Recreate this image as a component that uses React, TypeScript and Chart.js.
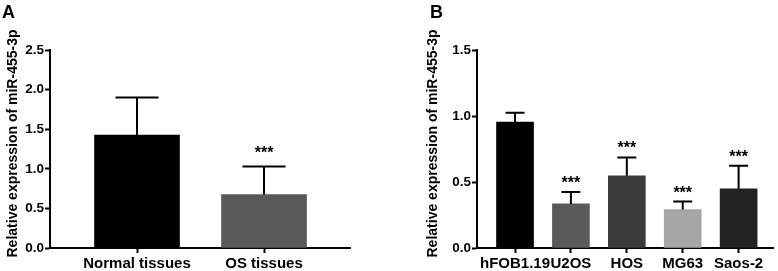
import React, { useEffect, useRef } from "react";
import { Chart, registerables } from "chart.js";
Chart.register(...registerables);

const yTitle = "Relative expression of miR-455-3p";

const tissueLabels = ["Normal tissues", "OS tissues"];
const tissueMeans = [1.425, 0.675];
const tissueSD = [0.476, 0.355];
const tissueColors = ["#000000", "#595959"];
const tissueStars = ["", "***"];
const tissueYTicks = [0, 0.5, 1.0, 1.5, 2.0, 2.5];

const cellLabels = ["hFOB1.19", "U2OS", "HOS", "MG63", "Saos-2"];
const cellMeans = [0.954, 0.334, 0.547, 0.291, 0.448];
const cellSD = [0.071, 0.091, 0.139, 0.061, 0.175];
const cellColors = ["#000000", "#5a5a5a", "#3b3b3b", "#a6a6a6", "#222222"];
const cellStars = ["", "***", "***", "***", "***"];
const cellYTicks = [0, 0.5, 1.0, 1.5];

const FONT = "'Liberation Sans', Arial, Helvetica, sans-serif";

type PanelOpts = {
  labels: string[];
  means: number[];
  sd: number[];
  colors: string[];
  stars: string[];
  yTicks: number[];
  xMin: number;
  xMax: number;
  barThickness: number;
  capHalf: number;
  axisLeft: number;
  padRight: number;
  titleX: number;
  starGap: number;
};

function makeConfig(o: PanelOpts): any {
  const extras = {
    id: "extras",
    afterDatasetsDraw(chart: any) {
      const ctx = chart.ctx;
      const y = chart.scales.y;
      const meta = chart.getDatasetMeta(0);
      ctx.save();
      ctx.strokeStyle = "#000";
      ctx.lineWidth = 2;
      meta.data.forEach((bar: any, i: number) => {
        const x = bar.x;
        const yBase = y.getPixelForValue(o.means[i]);
        const yTop = y.getPixelForValue(o.means[i] + o.sd[i]);
        ctx.beginPath();
        ctx.moveTo(x, yBase);
        ctx.lineTo(x, yTop);
        ctx.moveTo(x - o.capHalf, yTop);
        ctx.lineTo(x + o.capHalf, yTop);
        ctx.stroke();
        if (o.stars[i]) {
          ctx.fillStyle = "#000";
          ctx.font = `bold 16px ${FONT}`;
          ctx.textAlign = "center";
          ctx.textBaseline = "alphabetic";
          ctx.fillText(o.stars[i], x, yTop - o.starGap + 9);
        }
      });
      ctx.restore();
    },
    afterDraw(chart: any) {
      const ctx = chart.ctx;
      ctx.save();
      ctx.translate(o.titleX, 143.5);
      ctx.rotate(-Math.PI / 2);
      ctx.fillStyle = "#000";
      ctx.font = `bold 14px ${FONT}`;
      ctx.textAlign = "center";
      ctx.textBaseline = "middle";
      ctx.fillText(yTitle, 0, 0);
      ctx.restore();
    },
  };

  return {
    type: "bar",
    data: {
      datasets: [
        {
          data: o.means.map((m, i) => ({ x: i, y: m })),
          backgroundColor: o.colors,
          borderWidth: 0,
          barThickness: o.barThickness,
        },
      ],
    },
    options: {
      responsive: false,
      maintainAspectRatio: false,
      animation: false,
      devicePixelRatio: 1,
      layout: { padding: { top: 50, right: o.padRight, left: 0, bottom: 0 } },
      plugins: {
        legend: { display: false },
        tooltip: { enabled: false },
        title: { display: false },
      },
      scales: {
        x: {
          type: "linear",
          min: o.xMin,
          max: o.xMax,
          offset: false,
          z: 1,
          afterBuildTicks: (s: any) => {
            s.ticks = o.labels.map((_, i) => ({ value: i }));
          },
          afterFit: (s: any) => {
            s.height = 23;
            s.paddingLeft = 0;
            s.paddingRight = 0;
          },
          ticks: {
            autoSkip: false,
            maxRotation: 0,
            padding: 2,
            color: "#000",
            font: { family: FONT, size: 15, weight: "bold" },
            callback: (v: any) => o.labels[v] ?? "",
          },
          grid: {
            display: true,
            offset: false,
            drawOnChartArea: false,
            drawTicks: true,
            tickLength: 5,
            tickWidth: 2,
            tickColor: "#000",
          },
          border: { display: true, color: "#000", width: 2 },
        },
        y: {
          type: "linear",
          min: 0,
          max: o.yTicks[o.yTicks.length - 1],
          z: 1,
          afterBuildTicks: (s: any) => {
            s.ticks = o.yTicks.map((v) => ({ value: v }));
          },
          afterFit: (s: any) => {
            s.width = o.axisLeft;
          },
          ticks: {
            padding: 1,
            color: "#000",
            font: { family: FONT, size: 13.5, weight: "bold" },
            callback: (v: any) => Number(v).toFixed(1),
          },
          grid: {
            display: true,
            drawOnChartArea: false,
            drawTicks: true,
            tickLength: 5,
            tickWidth: 2,
            tickColor: "#000",
          },
          border: { display: true, color: "#000", width: 2 },
        },
      },
    },
    plugins: [extras],
  };
}

function Panel({ opts, width, left, letter, letterX }: { opts: PanelOpts; width: number; left: number; letter: string; letterX: number }) {
  const ref = useRef<HTMLCanvasElement | null>(null);
  useEffect(() => {
    if (!ref.current) return;
    const chart = new Chart(ref.current, makeConfig(opts));
    return () => chart.destroy();
  }, []);
  return (
    <div style={{ position: "absolute", left, top: 0, width, height: 271 }}>
      <canvas ref={ref} width={width} height={271} style={{ display: "block", width, height: 271 }} />
      <div
        style={{
          position: "absolute",
          left: letterX,
          top: 3,
          fontFamily: FONT,
          fontWeight: "bold",
          fontSize: 18,
          lineHeight: "18px",
          color: "#000",
        }}
      >
        {letter}
      </div>
    </div>
  );
}

export default function App() {
  const optsA: PanelOpts = {
    labels: tissueLabels,
    means: tissueMeans,
    sd: tissueSD,
    colors: tissueColors,
    stars: tissueStars,
    yTicks: tissueYTicks,
    xMin: -0.685,
    xMax: 1.677,
    barThickness: 85,
    capHalf: 21.5,
    axisLeft: 50,
    padRight: 40,
    titleX: 13,
    starGap: 17.5,
  };
  const optsB: PanelOpts = {
    labels: cellLabels,
    means: cellMeans,
    sd: cellSD,
    colors: cellColors,
    stars: cellStars,
    yTicks: cellYTicks,
    xMin: -0.68,
    xMax: 4.615,
    barThickness: 37,
    capHalf: 9.5,
    axisLeft: 87,
    padRight: 5,
    titleX: 43,
    starGap: 13,
  };
  return (
    <div style={{ position: "absolute", left: 0, top: 0, width: 778, height: 271, background: "#fff", overflow: "hidden" }}>
      <Panel opts={optsA} width={390} left={0} letter="A" letterX={2} />
      <Panel opts={optsB} width={388} left={390} letter="B" letterX={40} />
    </div>
  );
}
